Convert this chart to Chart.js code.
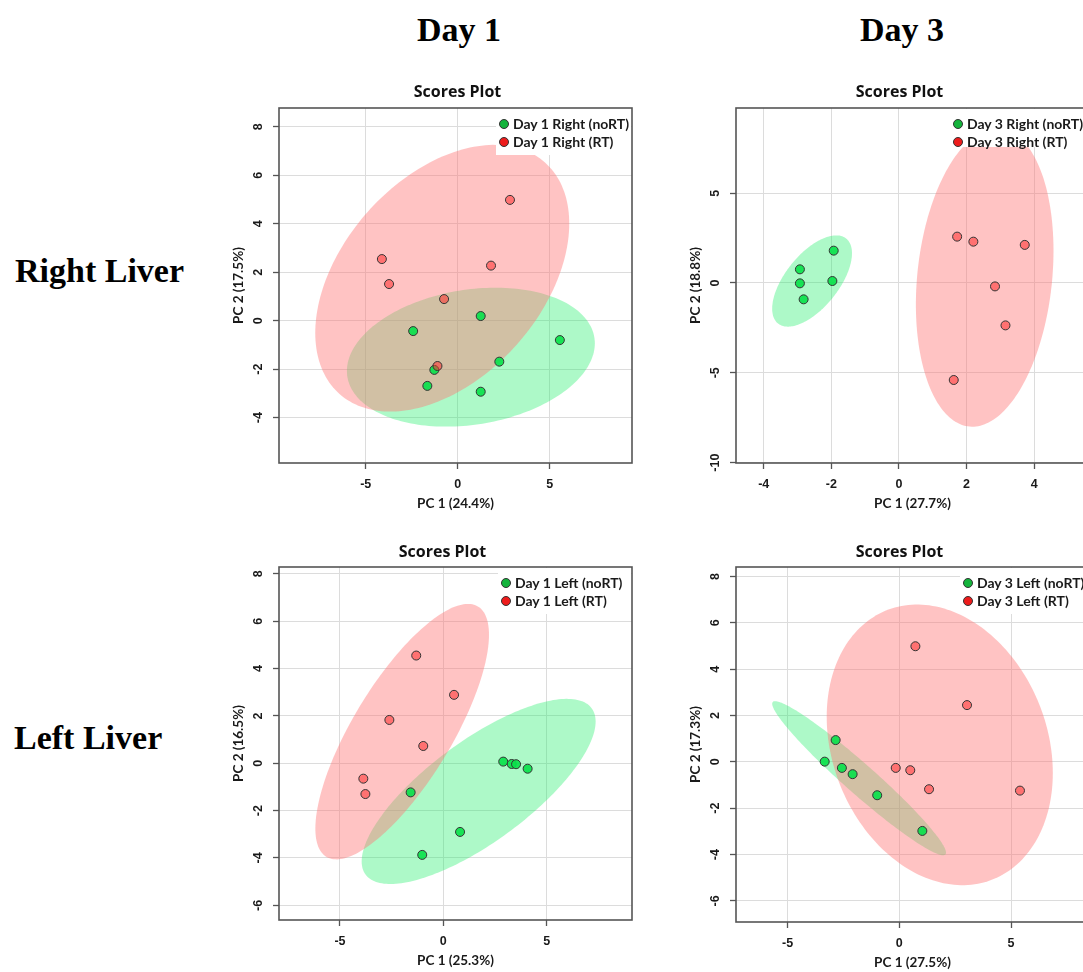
<!DOCTYPE html>
<html>
<head>
<meta charset="utf-8">
<script src="https://cdn.jsdelivr.net/npm/chart.js@4.4.1/dist/chart.umd.min.js"></script>
<style>
html,body{margin:0;padding:0;background:#fff;}
#page{position:relative;width:1083px;height:972px;overflow:hidden;background:#fff;}
.abs{position:absolute;white-space:nowrap;}
.serif{font-family:"Liberation Serif","Times New Roman",serif;font-weight:bold;font-size:34px;line-height:34px;color:#000;}
.center{transform:translateX(-50%);}
.ptitle{font-family:"Open Sans",Lato,sans-serif;font-weight:bold;font-size:16px;line-height:16px;color:#111;}
.legend{position:absolute;background:#fff;}
.lrow{position:absolute;height:16px;line-height:16px;display:flex;align-items:center;white-space:nowrap;
  font-family:Lato,"Open Sans",sans-serif;font-weight:bold;font-size:14px;color:#1a1a1a;}
.mk{display:inline-block;width:8px;height:8px;border:1px solid #333;border-radius:50%;margin-right:4px;}
canvas{position:absolute;}
</style>
</head>
<body>
<div id="page">
  <div class="abs serif center" style="left:459px;top:13px;">Day 1</div>
  <div class="abs serif center" style="left:902px;top:13px;">Day 3</div>
  <div class="abs serif" style="left:15px;top:254px;">Right Liver</div>
  <div class="abs serif" style="left:14px;top:721px;">Left Liver</div>
</div>
<script>
// ---------------- DATA ----------------
// Day 1 Right liver
const day1RightNoRT = [[1.25,0.19],[-2.42,-0.43],[5.55,-0.80],[2.26,-1.69],[-1.27,-2.03],[-1.65,-2.69],[1.25,-2.93]];
const day1RightRT   = [[2.84,4.98],[-4.12,2.54],[-3.73,1.51],[1.81,2.27],[-0.74,0.89],[-1.10,-1.87]];
// Day 3 Right liver
const day3RightNoRT = [[-1.93,1.80],[-2.93,0.76],[-2.93,-0.02],[-2.82,-0.91],[-1.97,0.11]];
const day3RightRT   = [[1.72,2.58],[2.20,2.30],[3.72,2.12],[2.84,-0.19],[3.15,-2.36],[1.62,-5.40]];
// Day 1 Left liver
const day1LeftNoRT  = [[2.90,0.07],[3.31,-0.03],[3.52,-0.04],[4.08,-0.23],[-1.58,-1.23],[0.81,-2.90],[-1.02,-3.87]];
const day1LeftRT    = [[-1.31,4.55],[0.52,2.89],[-2.61,1.83],[-0.97,0.73],[-3.87,-0.65],[-3.77,-1.30]];
// Day 3 Left liver
const day3LeftNoRT  = [[-2.85,0.94],[-3.34,0.01],[-2.57,-0.26],[-2.09,-0.53],[-0.99,-1.44],[1.03,-2.98]];
const day3LeftRT    = [[0.72,4.99],[3.03,2.45],[-0.16,-0.26],[0.49,-0.36],[1.33,-1.18],[5.40,-1.24]];

// 95% confidence ellipses: [centerX, centerY, halfWidthX, halfHeightY, tilt (sin of phase)]
const ellDay1RightNoRT = [0.715,-1.505,6.735,2.865,0.199];
const ellDay1RightRT   = [-0.84,1.75,6.9,5.5,0.41];
const ellDay3RightNoRT = [-2.57,0.11,1.18,2.54,0.606];
const ellDay3RightRT   = [2.535,0.3,2.035,8.3,0.18];
const ellDay1LeftNoRT  = [1.71,-1.19,5.66,3.91,0.755];
const ellDay1LeftRT    = [-1.99,1.335,4.2,5.395,0.758];
const ellDay3LeftNoRT  = [-1.8,-0.705,3.89,3.325,-0.966];
const ellDay3LeftRT    = [1.81,0.735,5.06,6.055,-0.2];

// axis ranges and tick steps
const xRangeDay1Right = [-9.71, 9.47], yRangeDay1Right = [-5.87, 8.77];
const xRangeDay3Right = [-4.82, 5.62], yRangeDay3Right = [-10.02, 9.74];
const xRangeDay1Left  = [-7.95, 9.13], yRangeDay1Left  = [-6.62, 8.29];
const xRangeDay3Left  = [-7.31, 8.49], yRangeDay3Left  = [-6.91, 8.41];
const xStepDay1Right = 5, yStepDay1Right = 2;
const xStepDay3Right = 2, yStepDay3Right = 5;
const xStepDay1Left  = 5, yStepDay1Left  = 2;
const xStepDay3Left  = 5, yStepDay3Left  = 2;

// labels
const xTitles = ['PC 1 (24.4%)','PC 1 (27.7%)','PC 1 (25.3%)','PC 1 (27.5%)'];
const yTitles = ['PC 2 (17.5%)','PC 2 (18.8%)','PC 2 (16.5%)','PC 2 (17.3%)'];
const noRTLabels = ['Day 1 Right (noRT)','Day 3 Right (noRT)','Day 1 Left (noRT)','Day 3 Left (noRT)'];
const rtLabels   = ['Day 1 Right (RT)','Day 3 Right (RT)','Day 1 Left (RT)','Day 3 Left (RT)'];
const panelTitle = 'Scores Plot';

// ---------------- STYLE ----------------
const RED_ELL = 'rgba(255,119,119,0.44)';
const GREEN_ELL = 'rgba(40,240,110,0.38)';
const RED_PT = 'rgba(255,45,45,0.55)';
const GREEN_PT = 'rgba(10,225,75,0.92)';
const RED_LEG = '#ee1c1c';
const GREEN_LEG = '#14b43c';
const TICK_FONT = {family:"'Liberation Sans', Arial, sans-serif", weight:'bold', size:12.5};
const TITLE_FONT = {family:"Lato, 'Open Sans', sans-serif", weight:'bold', size:13.5};

const panels = [
  {box:[279,108,632,463], noRT:day1RightNoRT, rt:day1RightRT, ellNo:ellDay1RightNoRT, ellRt:ellDay1RightRT,
   xr:xRangeDay1Right, yr:yRangeDay1Right, xs:xStepDay1Right, ys:yStepDay1Right, titleX:457.5, titleBase:97, legX:504, legH:46},
  {box:[736,108,1089,463], noRT:day3RightNoRT, rt:day3RightRT, ellNo:ellDay3RightNoRT, ellRt:ellDay3RightRT,
   xr:xRangeDay3Right, yr:yRangeDay3Right, xs:xStepDay3Right, ys:yStepDay3Right, titleX:899.5, titleBase:97, legX:958, legH:38},
  {box:[279,567,632,920], noRT:day1LeftNoRT, rt:day1LeftRT, ellNo:ellDay1LeftNoRT, ellRt:ellDay1LeftRT,
   xr:xRangeDay1Left, yr:yRangeDay1Left, xs:xStepDay1Left, ys:yStepDay1Left, titleX:442.5, titleBase:557.3, legX:506, legH:46},
  {box:[736,567,1089,922], noRT:day3LeftNoRT, rt:day3LeftRT, ellNo:ellDay3LeftNoRT, ellRt:ellDay3LeftRT,
   xr:xRangeDay3Left, yr:yRangeDay3Left, xs:xStepDay3Left, ys:yStepDay3Left, titleX:899.5, titleBase:557.3, legX:968, legH:46}
];

// ---------------- PLUGINS ----------------
const ellipsePlugin = {
  id:'ellipses',
  beforeDatasetsDraw(chart, args, opts){
    const {ctx, chartArea:a, scales:{x, y}} = chart;
    ctx.save();
    ctx.beginPath(); ctx.rect(a.left, a.top, a.right-a.left, a.bottom-a.top); ctx.clip();
    for (const e of opts.items){
      const [cx, cy, rx, ry, s] = e.params;
      const c = Math.sqrt(1 - s*s);
      ctx.beginPath();
      for (let i = 0; i <= 200; i++){
        const t = i/200*2*Math.PI;
        const px = x.getPixelForValue(cx + rx*Math.cos(t));
        const py = y.getPixelForValue(cy + ry*(s*Math.cos(t) + c*Math.sin(t)));
        if (i) ctx.lineTo(px, py); else ctx.moveTo(px, py);
      }
      ctx.closePath();
      ctx.fillStyle = e.color;
      ctx.fill();
    }
    ctx.restore();
  }
};
const boxPlugin = {
  id:'plotBox',
  afterDatasetsDraw(chart){
    const {ctx, chartArea:a} = chart;
    ctx.save();
    ctx.strokeStyle = '#555';
    ctx.lineWidth = 1.6;
    ctx.strokeRect(a.left, a.top, a.right-a.left, a.bottom-a.top);
    ctx.restore();
  }
};

// measure widest y tick label to center the rotated labels
const mctx = document.createElement('canvas').getContext('2d');
mctx.font = `bold ${TICK_FONT.size}px ${TICK_FONT.family}`;
function ticksBetween(r, st){ const out=[]; for(let v=Math.ceil(r[0]/st)*st; v<=r[1]; v+=st) out.push(v); return out; }

const page = document.getElementById('page');
const Y_AXIS_W = 60, X_AXIS_H = 55, PAD_T = 10, PAD_R = 10;

panels.forEach((p, i) => {
  const [bl, bt, br, bb] = p.box;
  const W = Y_AXIS_W + (br-bl) + PAD_R, H = PAD_T + (bb-bt) + X_AXIS_H;
  const cv = document.createElement('canvas');
  cv.width = W; cv.height = H;
  cv.style.left = (bl - Y_AXIS_W) + 'px';
  cv.style.top = (bt - PAD_T) + 'px';
  cv.style.width = W + 'px'; cv.style.height = H + 'px';
  page.appendChild(cv);

  const widest = Math.max(...ticksBetween(p.yr, p.ys).map(v => mctx.measureText(String(v)).width));
  const yPad = 20 - 6 - widest/2;

  new Chart(cv, {
    type:'scatter',
    data:{datasets:[
      {label:rtLabels[i], data:p.rt.map(([x,y])=>({x,y})), backgroundColor:RED_PT, borderColor:'#333',
       borderWidth:1, pointRadius:4.5, pointHoverRadius:4.5},
      {label:noRTLabels[i], data:p.noRT.map(([x,y])=>({x,y})), backgroundColor:GREEN_PT, borderColor:'#333',
       borderWidth:1, pointRadius:4.5, pointHoverRadius:4.5}
    ]},
    options:{
      responsive:false, animation:false, devicePixelRatio:1, events:[],
      layout:{padding:{left:0, top:PAD_T, right:PAD_R, bottom:0}},
      plugins:{legend:{display:false}, tooltip:{enabled:false},
        ellipses:{items:[{params:p.ellNo, color:GREEN_ELL},{params:p.ellRt, color:RED_ELL}]}},
      scales:{
        x:{type:'linear', position:'bottom', min:p.xr[0], max:p.xr[1],
          afterFit(s){ s.height = X_AXIS_H; s.paddingLeft = 0; s.paddingRight = 0; },
          ticks:{stepSize:p.xs, includeBounds:false, padding:8.3, font:TICK_FONT, color:'#1a1a1a', maxRotation:0, autoSkip:false},
          grid:{color:'#dcdcdc', lineWidth:1, tickColor:'#555', tickLength:6, tickWidth:1.3, drawTicks:true},
          border:{display:false},
          title:{display:true, text:xTitles[i], font:TITLE_FONT, color:'#1a1a1a', padding:{top:0, bottom:6.3}}},
        y:{type:'linear', position:'left', min:p.yr[0], max:p.yr[1],
          afterFit(s){ s.width = Y_AXIS_W; s.paddingTop = 0; s.paddingBottom = 0; },
          ticks:{stepSize:p.ys, includeBounds:false, padding:yPad, font:TICK_FONT, color:'#1a1a1a',
            minRotation:90, maxRotation:90, crossAlign:'center', autoSkip:false},
          grid:{color:'#dcdcdc', lineWidth:1, tickColor:'#555', tickLength:6, tickWidth:1.3, drawTicks:true},
          border:{display:false},
          title:{display:true, text:yTitles[i], font:TITLE_FONT, color:'#1a1a1a', padding:{top:11.9, bottom:0}}}
      }
    },
    plugins:[ellipsePlugin, boxPlugin]
  });

  // panel title
  const t = document.createElement('div');
  t.className = 'abs ptitle center';
  t.textContent = panelTitle;
  t.style.left = p.titleX + 'px';
  t.style.top = (p.titleBase - 14.2) + 'px';
  page.appendChild(t);

  // legend (white box inside plot, top-right)
  const lg = document.createElement('div');
  lg.className = 'legend';
  const lgLeft = p.legX - 8;
  lg.style.left = lgLeft + 'px';
  lg.style.top = (bt + 1) + 'px';
  lg.style.width = (br - 1 - lgLeft) + 'px';
  lg.style.height = p.legH + 'px';
  page.appendChild(lg);
  [[noRTLabels[i], GREEN_LEG],[rtLabels[i], RED_LEG]].forEach(([txt, col], k) => {
    const row = document.createElement('div');
    row.className = 'lrow';
    row.style.left = (p.legX - 5) + 'px';
    row.style.top = (bt + 15.5 + 18*k - 8) + 'px';
    const mk = document.createElement('span');
    mk.className = 'mk'; mk.style.background = col;
    row.appendChild(mk);
    row.appendChild(document.createTextNode(txt));
    page.appendChild(row);
  });
});
</script>
</body>
</html>
